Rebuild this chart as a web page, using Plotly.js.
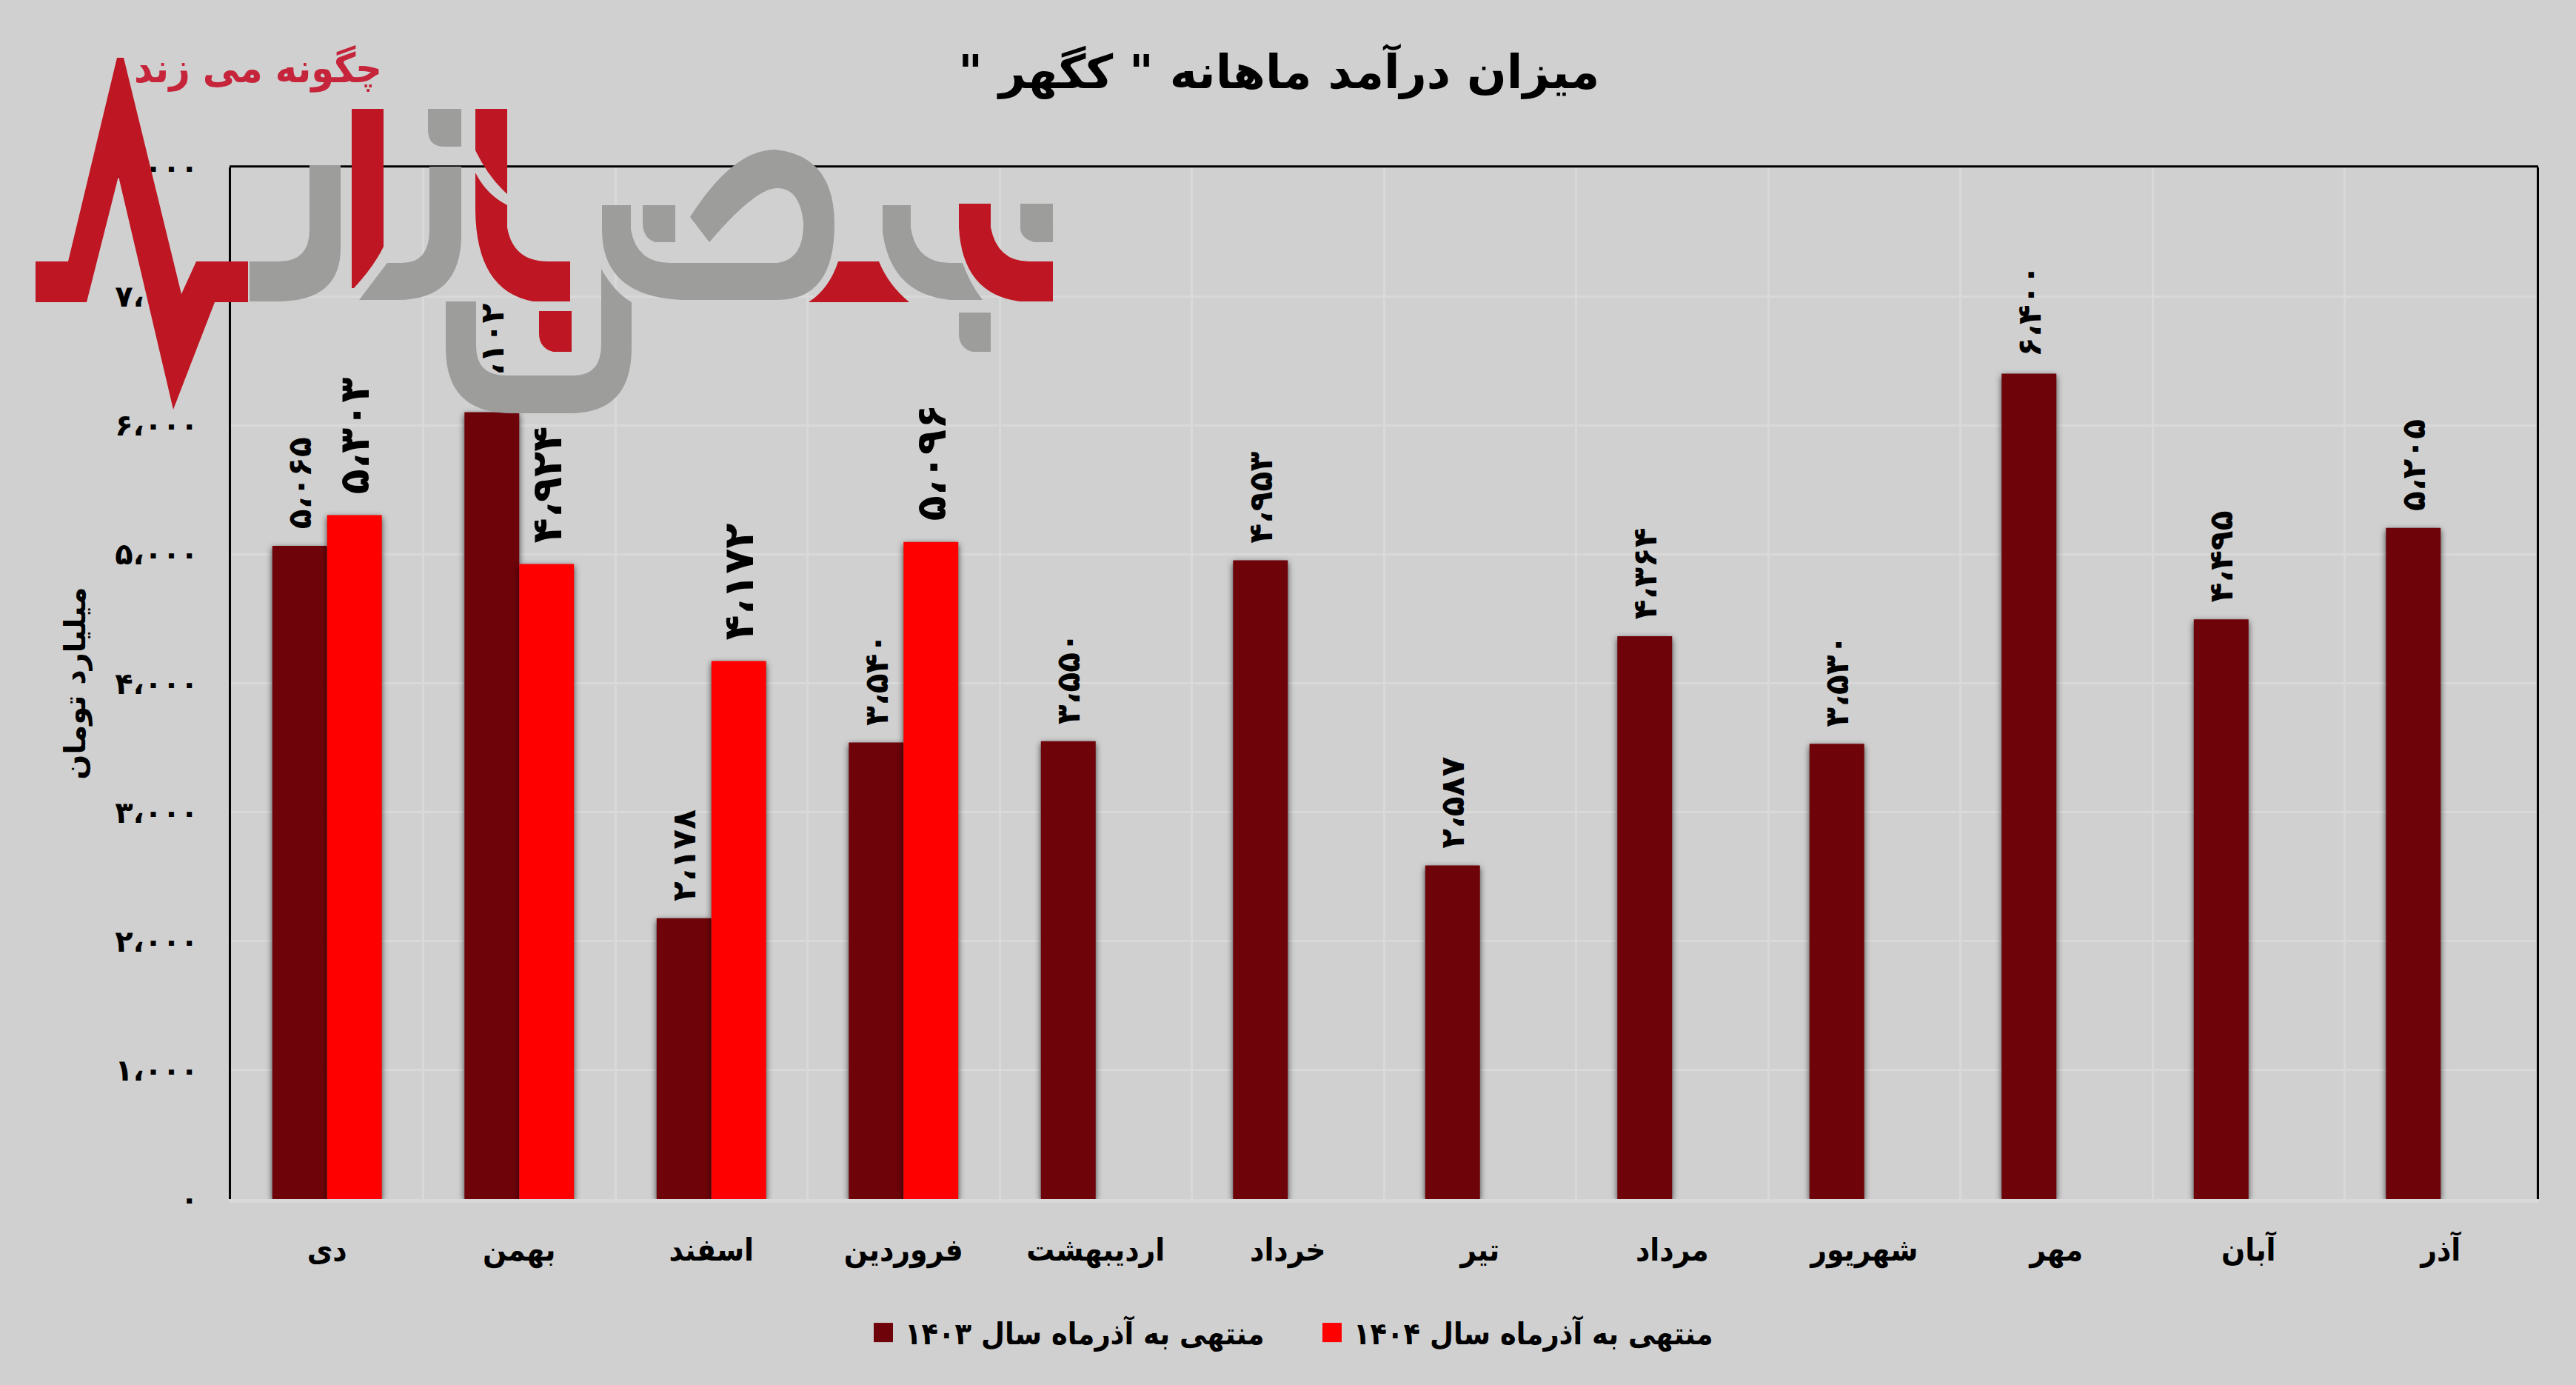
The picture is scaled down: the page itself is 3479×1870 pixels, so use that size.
<!DOCTYPE html>
<html>
<head>
<meta charset="utf-8">
<script src="https://cdn.plot.ly/plotly-3.0.1.min.js"></script>
<style>
html,body{margin:0;padding:0;background:#d0d0d0;}
#chart{width:3479px;height:1870px;outline:3px solid #dcdcdc;outline-offset:-3px;}
.barlayer .point path{filter:drop-shadow(0 3px 4px rgba(0,0,0,.7));}
.shapelayer path:nth-child(n+2){filter:blur(1.2px);}
.annotation text{filter:blur(.7px);}
.legendpoints path{transform:translate(29px,0) scale(2.17);}
.ytick text{letter-spacing:4px;}
text.bartext{letter-spacing:5px;}
</style>
</head>
<body>
<div id="chart"></div>
<script>
const categories = ['دی','بهمن','اسفند','فروردین','اردیبهشت','خرداد','تیر','مرداد','شهریور','مهر','آبان','آذر'];
const values1403 = [5065,6102,2178,3540,3550,4953,2587,4364,3530,6400,4495,5205];
const values1404 = [5303,4924,4172,5096];
const name1403 = 'منتهی به آذرماه سال ۱۴۰۳';
const name1404 = 'منتهی به آذرماه سال ۱۴۰۴';
const tickValues = [0,1000,2000,3000,4000,5000,6000,7000,8000];
const tickLabels = ['۰','۱،۰۰۰','۲،۰۰۰','۳،۰۰۰','۴،۰۰۰','۵،۰۰۰','۶،۰۰۰','۷،۰۰۰','۸،۰۰۰'];
const titleText = '\u200Fمیزان درآمد ماهانه " کگهر "\u200F';
const yTitleText = 'میلیارد تومان';
const logoText = 'چگونه می زند';

const W=3479,H=1870,L=312,R=3426,T=226,B=1619.5;
const px=x=>(x-L)/(R-L), py=y=>(B-y)/(B-T);
const conv=p=>p.replace(/(-?[\d.]+),(-?[\d.]+)/g,(m,a,b)=>px(+a).toFixed(5)+','+py(+b).toFixed(5));
const fa=v=>{const s=String(v).replace(/\d/g,d=>'۰۱۲۳۴۵۶۷۸۹'[d]);return s.slice(0,-3)+'،'+s.slice(-3);};
const pad='\u00A0\u200A';

const RED='#be1622',GRAY='#9d9d9c';
const logoPaths=[
 [RED,'M48,353 L92,353 L158,78 L167,78 L245,397 L265,353 L335,353 L335,408 L290,408 L234,553 L160,238 L117,408 L48,408 Z'],
 [GRAY,'M337,353 L377,353 Q418,353 418,310 L418,223 L460,223 L460,335 Q460,407 375,407 L337,407 Z'],
 [RED,'M475,147 L518,147 L518,333 Q505,360 478,389 L475,389 Z'],
 [GRAY,'M578,147 L623,147 L623,198 L600,198 Q578,198 578,175 Z'],
 [GRAY,'M485,405 L523,355 L543,355 Q580,355 580,310 L580,225 L623,225 L623,317 Q623,405 537,405 Z'],
 [RED,'M642,147 L685,147 L685,262 Q660,240 642,203 Z'],
 [RED,'M642,233 Q657,263 685,277 L685,307 Q693,353 740,353 L770,353 L770,407 L720,407 Q643,393 642,283 Z'],
 [RED,'M728,420 L772,420 L772,475 L747,475 Q728,470 728,450 Z'],
 [GRAY,'M602,407 L643,407 L643,467 Q643,507 683,507 L775,507 Q812,507 812,465 L812,363 Q830,395 853,408 L853,470 Q853,558 770,558 L690,558 Q602,558 602,470 Z'],
 [GRAY,'M813,277 L852,277 L852,310 Q860,355 905,355 L1050,355 Q1086,350 1085,300 Q1080,254 1050,254 Q1020,254 958,327 L932,293 Q990,202 1047,202 Q1127,210 1127,303 Q1127,405 1050,405 L920,405 Q813,400 813,310 Z'],
 [GRAY,'M868,277 L912,277 L912,327 L885,327 Q868,322 868,300 Z'],
 [RED,'M1132,353 L1187,353 Q1200,385 1228,408 L1092,408 Q1120,390 1132,353 Z'],
 [GRAY,'M1192,277 L1230,277 L1230,307 Q1237,355 1283,355 L1300,355 Q1310,383 1327,405 L1283,405 Q1203,397 1192,313 Z'],
 [RED,'M1295,275 L1338,275 L1338,307 Q1347,353 1390,353 L1422,353 L1422,407 L1377,407 Q1300,397 1295,307 Z'],
 [GRAY,'M1378,275 L1422,275 L1422,327 L1397,327 Q1378,322 1378,307 Z'],
 [GRAY,'M1295,422 L1338,422 L1338,475 L1313,475 Q1295,470 1295,450 Z']
];

const FONT='"DejaVu Sans"', COND='"DejaVu Sans Condensed","DejaVu Sans"';
const traces=[
 {type:'bar',name:name1403,x:categories,y:values1403,marker:{color:'#6e040a'},
  text:values1403.map(v=>pad+fa(v)),textposition:'outside',textangle:-90,constraintext:'none',cliponaxis:false,
  textfont:{family:FONT,size:44,color:'#000',weight:700},hoverinfo:'skip'},
 {type:'bar',name:name1404,x:categories.slice(0,values1404.length),y:values1404,marker:{color:'#ff0000'},
  text:values1404.map(v=>pad+fa(v)),textposition:'outside',textangle:-90,constraintext:'none',cliponaxis:false,
  textfont:{family:FONT,size:56,color:'#000',weight:700},hoverinfo:'skip'}
];
const layout={
 width:W,height:H,paper_bgcolor:'#d0d0d0',plot_bgcolor:'#d0d0d0',
 margin:{l:L,r:W-R,t:T,b:H-B,pad:0,autoexpand:false},
 barmode:'group',bargap:0.43,bargroupgap:0,
 title:{text:titleText,x:0.4965,xref:'container',xanchor:'center',y:1-97/H,yref:'container',yanchor:'middle',
        font:{family:FONT,size:63,color:'#000',weight:700}},
 font:{family:FONT,color:'#000'},
 xaxis:{type:'category',categoryorder:'array',categoryarray:categories,tickson:'boundaries',ticks:'',
        showgrid:true,gridcolor:'#d9d9d9',gridwidth:3,showline:true,linecolor:'#d9d9d9',linewidth:5,zeroline:false,
        tickfont:{family:COND,size:42,color:'#000',weight:700},ticklabelstandoff:28},
 yaxis:{range:[0,8000],tickmode:'array',tickvals:tickValues,ticktext:tickLabels,ticks:'',
        showgrid:true,gridcolor:'#d9d9d9',gridwidth:3,showline:true,linecolor:'#000',linewidth:3,mirror:true,zeroline:false,
        tickfont:{family:FONT,size:40,color:'#000',weight:700},ticklabelstandoff:33,
        title:{text:yTitleText,standoff:28,font:{family:FONT,size:40,color:'#000',weight:700}}},
 showlegend:true,
 legend:{orientation:'h',x:px(1164),xanchor:'left',y:py(1800),yanchor:'middle',bgcolor:'rgba(0,0,0,0)',
         traceorder:'normal',itemwidth:48,entrywidth:543,entrywidthmode:'pixels',
         font:{family:COND,size:41,color:'#000',weight:700}},
 shapes:[{type:'line',xref:'paper',yref:'paper',x0:px(310),x1:px(3428),y0:py(224.7),y1:py(224.7),line:{color:'#000',width:3},layer:'above'}]
   .concat(logoPaths.map(([c,p])=>({type:'path',xref:'paper',yref:'paper',path:conv(p),fillcolor:c,line:{width:0},layer:'above'}))),
 annotations:[{text:logoText,xref:'paper',yref:'paper',x:px(348),y:py(92),xanchor:'center',yanchor:'middle',showarrow:false,
   font:{family:COND,size:55,color:'#c6243a',weight:700}}]
};
Plotly.newPlot('chart',traces,layout,{displayModeBar:false,staticPlot:true});
</script>
</body>
</html>
